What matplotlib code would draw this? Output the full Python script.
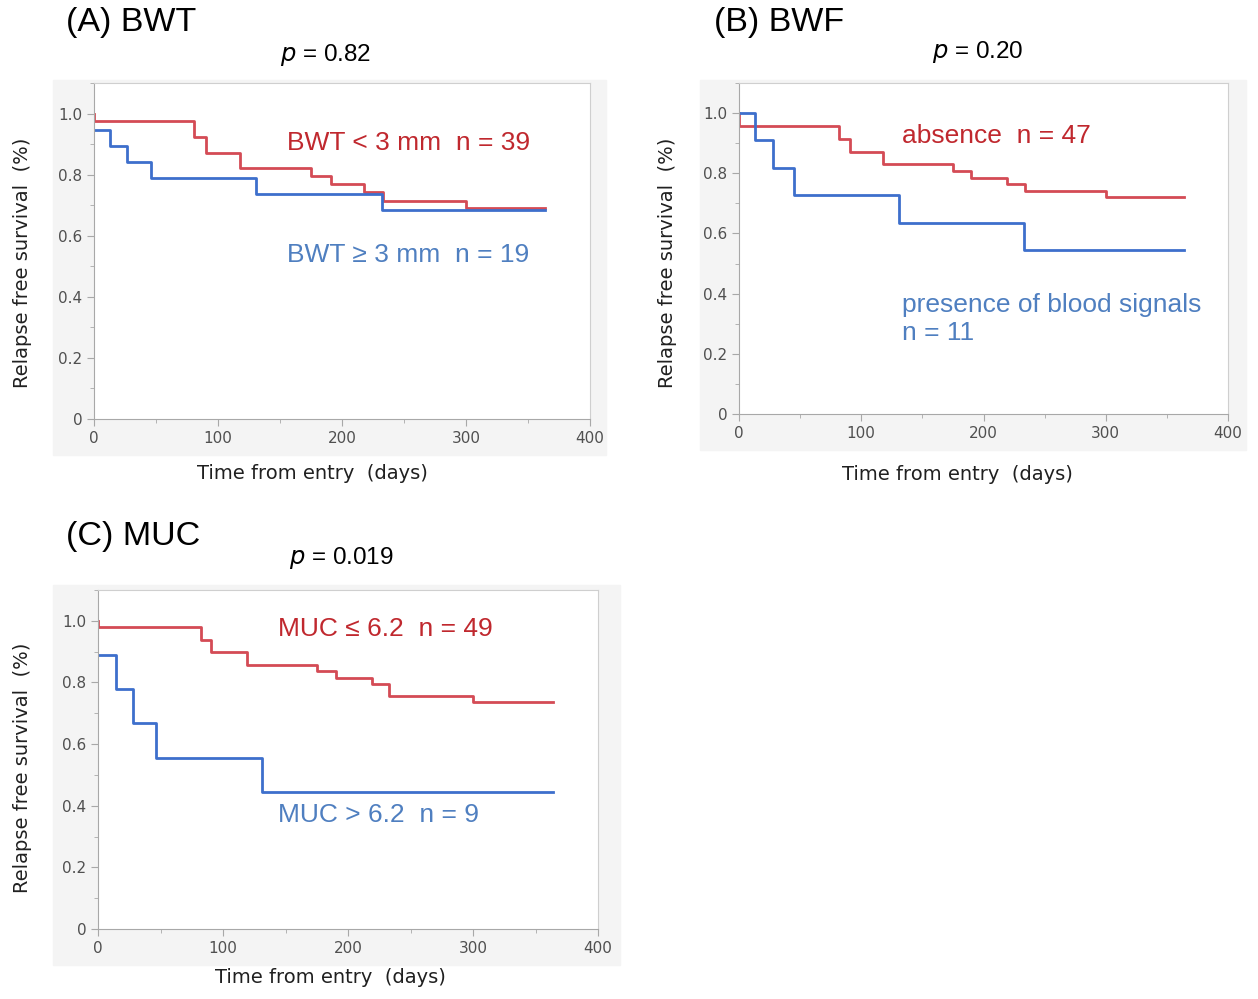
import matplotlib.pyplot as plt
from matplotlib.patches import Rectangle
from matplotlib.ticker import MultipleLocator

plt.rcParams['font.family'] = ['Liberation Sans', 'DejaVu Sans']

# Kaplan-Meier step data: event times (days) and survival after each step
A_RED_T = [0, 0, 81, 90, 118, 175, 191, 218, 233, 300, 364]
A_RED_S = [1.0, 0.974, 0.923, 0.872, 0.821, 0.795, 0.769, 0.744, 0.714, 0.692, 0.692]
A_BLUE_T = [0, 13, 27, 46, 131, 232, 364]
A_BLUE_S = [0.947, 0.895, 0.842, 0.789, 0.737, 0.684, 0.684]

B_RED_T = [0, 0, 82, 91, 118, 175, 190, 219, 234, 300, 364]
B_RED_S = [1.0, 0.957, 0.915, 0.872, 0.830, 0.806, 0.784, 0.764, 0.742, 0.720, 0.720]
B_BLUE_T = [0, 13, 28, 45, 131, 233, 364]
B_BLUE_S = [1.0, 0.909, 0.818, 0.727, 0.636, 0.545, 0.545]

C_RED_T = [0, 0, 82, 90, 119, 175, 190, 219, 233, 300, 364]
C_RED_S = [1.0, 0.980, 0.939, 0.898, 0.857, 0.837, 0.816, 0.796, 0.755, 0.735, 0.735]
C_BLUE_T = [0, 14, 28, 46, 131, 364]
C_BLUE_S = [0.889, 0.778, 0.667, 0.556, 0.444, 0.444]

RED_LINE = '#d44b55'
BLUE_LINE = '#3d6fcc'
RED_TXT = '#c0282e'
BLUE_TXT = '#4f7fc0'
BG = '#f4f4f4'

W, H = 1258, 999
fig = plt.figure(figsize=(W / 100, H / 100), dpi=100)


def px_rect(x0, y0, x1, y1):
    # pixel box (top-left origin) -> figure fraction
    return [x0 / W, 1 - y1 / H, (x1 - x0) / W, (y1 - y0) / H]


def km_panel(axbox, bgbox, red, blue, labels, title, title_xy, ptext, p_xy,
             ylab_xy, xlab_xy):
    fig.patches.append(Rectangle((bgbox[0], bgbox[1]), bgbox[2], bgbox[3],
                                 transform=fig.transFigure, color=BG, zorder=-5))
    ax = fig.add_axes(axbox)
    ax.set_facecolor('white')
    ax.step(red[0], red[1], where='post', color=RED_LINE, lw=2)
    ax.step(blue[0], blue[1], where='post', color=BLUE_LINE, lw=2)
    ax.set_xlim(0, 400)
    ax.set_ylim(0, 1.1)
    ax.set_xticks([0, 100, 200, 300, 400])
    ax.set_yticks([0, 0.2, 0.4, 0.6, 0.8, 1.0])
    ax.set_yticklabels(['0', '0.2', '0.4', '0.6', '0.8', '1.0'])
    ax.xaxis.set_minor_locator(MultipleLocator(50))
    ax.yaxis.set_minor_locator(MultipleLocator(0.1))
    for s in ['top', 'right']:
        ax.spines[s].set_color('#cfcfcf')
    for s in ['left', 'bottom']:
        ax.spines[s].set_color('#a8a8a8')
    ax.tick_params(which='major', length=5, color='#a8a8a8', labelsize=11,
                   labelcolor='#505050')
    ax.tick_params(which='minor', length=3, color='#a8a8a8')
    for t in ax.get_xticklabels() + ax.get_yticklabels():
        t.set_family('DejaVu Sans')
    ax.set_ylabel('Relapse free survival  (%)', fontsize=14, color='#202020',
                  family='DejaVu Sans')
    ax.yaxis.set_label_coords(*ylab_xy)
    ax.set_xlabel('Time from entry  (days)', fontsize=14, color='#202020',
                  family='DejaVu Sans')
    ax.xaxis.set_label_coords(*xlab_xy)
    for txt, (x, y), col in labels:
        ax.text(x, y, txt, color=col, fontsize=19, va='center', ha='left')
    fig.text(title_xy[0] / W, 1 - title_xy[1] / H, title, fontsize=24.5,
             va='center', ha='left')
    fig.text(p_xy[0] / W, 1 - p_xy[1] / H, ptext, fontsize=17.5,
             va='center', ha='center')
    return ax


km_panel(px_rect(94, 83, 590, 419), px_rect(53, 80, 606, 455),
         (A_RED_T, A_RED_S), (A_BLUE_T, A_BLUE_S),
         [('BWT < 3 mm  n = 39', (156, 0.905), RED_TXT),
          ('BWT \u2265 3 mm  n = 19', (156, 0.537), BLUE_TXT)],
         '(A) BWT', (66, 22), r'$p$ = 0.82', (326, 55),
         (-0.125, 0.464), (0.44, -0.134))

km_panel(px_rect(739, 83, 1228, 414), px_rect(700, 80, 1246, 450),
         (B_RED_T, B_RED_S), (B_BLUE_T, B_BLUE_S),
         [('absence  n = 47', (133, 0.925), RED_TXT),
          ('presence of blood signals\nn = 11', (133, 0.315), BLUE_TXT)],
         '(B) BWF', (714, 22), r'$p$ = 0.20', (978, 52),
         (-0.127, 0.456), (0.446, -0.154))

km_panel(px_rect(98, 590, 598, 929), px_rect(53, 585, 620, 965),
         (C_RED_T, C_RED_S), (C_BLUE_T, C_BLUE_S),
         [('MUC \u2264 6.2  n = 49', (144, 0.975), RED_TXT),
          ('MUC > 6.2  n = 9', (144, 0.37), BLUE_TXT)],
         '(C) MUC', (66, 537), r'$p$ = 0.019', (341, 558),
         (-0.132, 0.475), (0.464, -0.115))

fig.savefig('out.png', dpi=100)
